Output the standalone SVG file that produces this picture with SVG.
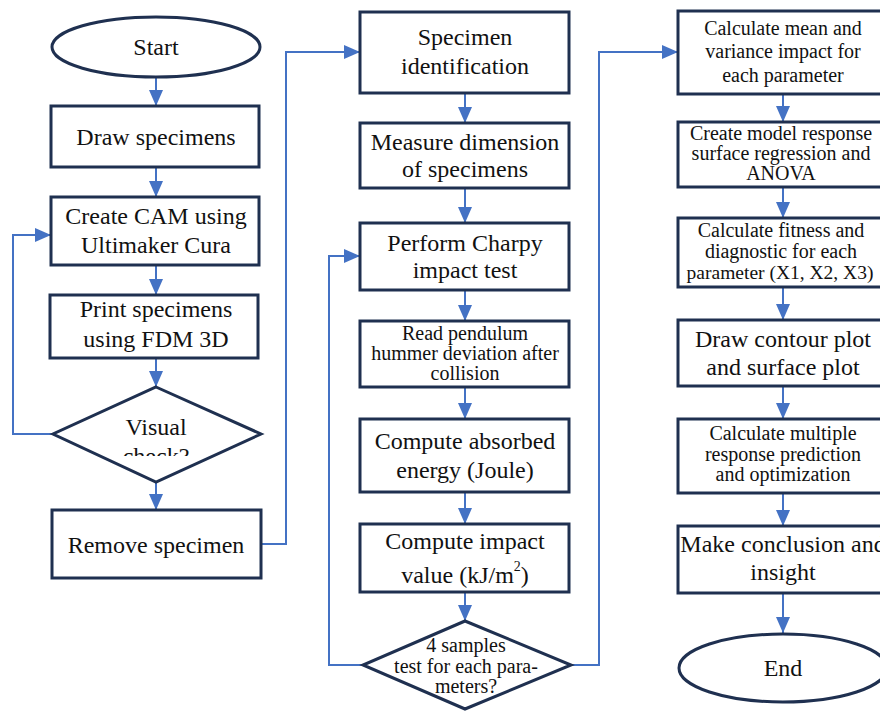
<svg xmlns="http://www.w3.org/2000/svg" width="880" height="711" viewBox="0 0 880 711">
<style>
.box{fill:#fff;stroke:#1f3050;stroke-width:3}
.t{font-family:"Liberation Serif","Times New Roman",serif;font-size:24px;fill:#111;text-anchor:middle}
.s{font-size:20px}
.xs{font-size:19.5px}
.c{fill:none;stroke:#4472c4;stroke-width:2}
</style>
<defs>
<marker id="ah" markerUnits="userSpaceOnUse" markerWidth="16" markerHeight="16" viewBox="0 0 16 16" refX="16" refY="8" orient="auto">
<path d="M0,1 L16,8 L0,15 Z" fill="#4472c4"/>
</marker>
<clipPath id="vc"><rect x="0" y="0" width="300" height="456"/></clipPath>
</defs>
<rect width="880" height="711" fill="#fff"/>
<g id="connectors">
<line class="c" x1="156" y1="77" x2="156" y2="106" marker-end="url(#ah)"/>
<line class="c" x1="156" y1="167" x2="156" y2="197" marker-end="url(#ah)"/>
<line class="c" x1="156" y1="265" x2="156" y2="295" marker-end="url(#ah)"/>
<line class="c" x1="156" y1="358" x2="156" y2="387" marker-end="url(#ah)"/>
<line class="c" x1="156" y1="482" x2="156" y2="510" marker-end="url(#ah)"/>
<polyline class="c" points="53,434 13,434 13,235 51,235" marker-end="url(#ah)"/>
<polyline class="c" points="261,544 286,544 286,52 360,52" marker-end="url(#ah)"/>
<line class="c" x1="465" y1="93" x2="465" y2="123" marker-end="url(#ah)"/>
<line class="c" x1="465" y1="188" x2="465" y2="223" marker-end="url(#ah)"/>
<line class="c" x1="465" y1="290" x2="465" y2="321" marker-end="url(#ah)"/>
<line class="c" x1="465" y1="387" x2="465" y2="419" marker-end="url(#ah)"/>
<line class="c" x1="465" y1="492" x2="465" y2="524" marker-end="url(#ah)"/>
<line class="c" x1="465" y1="592" x2="465" y2="621" marker-end="url(#ah)"/>
<polyline class="c" points="363,665 329,665 329,256 360,256" marker-end="url(#ah)"/>
<polyline class="c" points="571,665 599,665 599,52 678,52" marker-end="url(#ah)"/>
<line class="c" x1="783" y1="94" x2="783" y2="122" marker-end="url(#ah)"/>
<line class="c" x1="783" y1="187" x2="783" y2="218" marker-end="url(#ah)"/>
<line class="c" x1="783" y1="287" x2="783" y2="320" marker-end="url(#ah)"/>
<line class="c" x1="783" y1="386" x2="783" y2="419" marker-end="url(#ah)"/>
<line class="c" x1="783" y1="493" x2="783" y2="526" marker-end="url(#ah)"/>
<line class="c" x1="783" y1="593" x2="783" y2="633" marker-end="url(#ah)"/>
</g>
<g id="start"><ellipse class="box" cx="156" cy="47" rx="104" ry="30"/><text class="t" x="156" y="55">Start</text></g>
<g id="draw"><rect class="box" x="51" y="106" width="208" height="61"/><text class="t" x="156" y="145">Draw specimens</text></g>
<g id="cam"><rect class="box" x="51" y="197" width="208" height="68"/><text class="t" x="156" y="224">Create CAM using</text><text class="t" x="156" y="253">Ultimaker Cura</text></g>
<g id="print"><rect class="box" x="50" y="295" width="208" height="63"/><text class="t" x="156" y="317">Print specimens</text><text class="t" x="156" y="347">using FDM 3D</text></g>
<g id="visual"><polygon class="box" points="156,387 261,434 156,482 53,434"/><text class="t" x="156" y="435">Visual</text><text class="t" x="156" y="464" clip-path="url(#vc)">check?</text></g>
<g id="remove"><rect class="box" x="52" y="510" width="209" height="68"/><text class="t" x="156" y="553">Remove specimen</text></g>
<g id="ident"><rect class="box" x="360" y="12" width="209" height="81"/><text class="t" x="465" y="45">Specimen</text><text class="t" x="465" y="74">identification</text></g>
<g id="measure"><rect class="box" x="360" y="123" width="209" height="65"/><text class="t" x="465" y="150">Measure dimension</text><text class="t" x="465" y="177">of specimens</text></g>
<g id="charpy"><rect class="box" x="360" y="223" width="209" height="67"/><text class="t" x="465" y="251">Perform Charpy</text><text class="t" x="465" y="278">impact test</text></g>
<g id="read"><rect class="box" x="360" y="321" width="209" height="66"/><text class="t s" x="465" y="340">Read pendulum</text><text class="t s" x="465" y="360">hummer deviation after</text><text class="t s" x="465" y="380">collision</text></g>
<g id="absorbed"><rect class="box" x="360" y="419" width="209" height="73"/><text class="t" x="465" y="449">Compute absorbed</text><text class="t" x="465" y="478">energy (Joule)</text></g>
<g id="impact"><rect class="box" x="360" y="524" width="209" height="68"/><text class="t" x="465" y="549">Compute impact</text><text class="t" x="465" y="583">value (kJ/m<tspan font-size="14" dy="-12">2</tspan><tspan dy="12">)</tspan></text></g>
<g id="samples"><polygon class="box" points="465,621 571,665 465,709 363,665"/><text class="t s" x="466" y="652">4 samples</text><text class="t s" x="466" y="673">test for each para-</text><text class="t s" x="466" y="693">meters?</text></g>
<g id="mean"><rect class="box" x="678" y="11" width="210" height="83"/><text class="t s" x="783" y="35">Calculate mean and</text><text class="t s" x="783" y="58">variance impact for</text><text class="t s" x="783" y="82">each parameter</text></g>
<g id="model"><rect class="box" x="678" y="122" width="210" height="65"/><text class="t s" x="781" y="140">Create model response</text><text class="t s" x="781" y="160">surface regression and</text><text class="t s" x="781" y="180">ANOVA</text></g>
<g id="fitness"><rect class="box" x="678" y="218" width="210" height="69"/><text class="t s" x="781" y="237">Calculate fitness and</text><text class="t s" x="781" y="258">diagnostic for each</text><text class="t xs" x="780" y="279">parameter (X1, X2, X3)</text></g>
<g id="contour"><rect class="box" x="678" y="320" width="210" height="66"/><text class="t" x="783" y="347">Draw contour plot</text><text class="t" x="783" y="375">and surface plot</text></g>
<g id="multiple"><rect class="box" x="678" y="419" width="210" height="74"/><text class="t s" x="783" y="440">Calculate multiple</text><text class="t s" x="783" y="461">response prediction</text><text class="t s" x="783" y="481">and optimization</text></g>
<g id="conclusion"><rect class="box" x="678" y="526" width="210" height="67"/><text class="t" x="783" y="552">Make conclusion and</text><text class="t" x="783" y="580">insight</text></g>
<g id="end"><ellipse class="box" cx="783" cy="668" rx="104" ry="34"/><text class="t" x="783" y="676">End</text></g>
</svg>
